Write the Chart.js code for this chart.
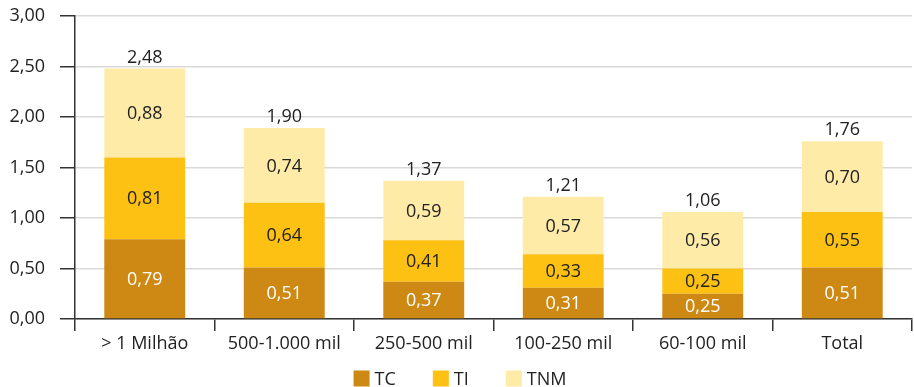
<!DOCTYPE html>
<html>
<head>
<meta charset="utf-8">
<script src="https://cdn.jsdelivr.net/npm/chart.js@4/dist/chart.umd.min.js"></script>
<style>
  html, body { margin: 0; padding: 0; background: #fff; }
  #wrap { width: 914px; height: 387px; position: relative; }
</style>
</head>
<body>
<div id="wrap"><canvas id="c"></canvas></div>
<script>
// Porte dos municípios
const categories = ['> 1 Milhão', '500-1.000 mil', '250-500 mil', '100-250 mil', '60-100 mil', 'Total'];
// Componentes empilhados
const tc  = [0.79, 0.51, 0.37, 0.31, 0.25, 0.51];
const ti  = [0.81, 0.64, 0.41, 0.33, 0.25, 0.55];
const tnm = [0.88, 0.74, 0.59, 0.57, 0.56, 0.70];
// Totais exibidos acima de cada barra
const totals = [2.48, 1.90, 1.37, 1.21, 1.06, 1.76];
const yTicks = [0, 0.5, 1, 1.5, 2, 2.5, 3];

const FONT = '"Open Sans", "Noto Sans", sans-serif';
const FS = 18;
const TEXT = '#222222';
const fmt = v => v.toFixed(2).replace('.', ',');

// Rótulos de valor no centro de cada segmento e total no topo
const valueLabels = {
  id: 'valueLabels',
  afterDatasetsDraw(chart) {
    const ctx = chart.ctx;
    ctx.save();
    ctx.font = FS + 'px ' + FONT;
    ctx.textAlign = 'center';
    ctx.textBaseline = 'middle';
    chart.data.datasets.forEach((ds, di) => {
      const meta = chart.getDatasetMeta(di);
      meta.data.forEach((bar, i) => {
        const mid = (bar.y + bar.base) / 2;
        ctx.fillStyle = di === 0 ? '#ffffff' : TEXT;
        ctx.fillText(fmt(ds.data[i]), bar.x, mid + 1);
      });
    });
    const last = chart.getDatasetMeta(chart.data.datasets.length - 1);
    ctx.fillStyle = TEXT;
    ctx.textBaseline = 'alphabetic';
    last.data.forEach((bar, i) => {
      ctx.fillText(fmt(totals[i]), bar.x, bar.y - 6);
    });
    ctx.restore();
  }
};

// Legenda desenhada no rodapé, centralizada
const footLegend = {
  id: 'footLegend',
  afterDraw(chart) {
    const ctx = chart.ctx;
    const box = 16, gapText = 5, gapItem = 37;
    ctx.save();
    ctx.font = FS + 'px ' + FONT;
    const items = chart.data.datasets.map(ds => ({
      text: ds.label, color: ds.backgroundColor, w: ctx.measureText(ds.label).width
    }));
    const total = items.reduce((s, it) => s + box + gapText + it.w, 0) + gapItem * (items.length - 1);
    let x = chart.width / 2 + 3 - total / 2;
    const yMid = chart.height - 8.5;
    ctx.textBaseline = 'middle';
    ctx.textAlign = 'left';
    items.forEach(it => {
      ctx.fillStyle = it.color;
      ctx.fillRect(x, yMid - box / 2, box, box);
      x += box + gapText;
      ctx.fillStyle = TEXT;
      ctx.fillText(it.text, x, yMid + 1);
      x += it.w + gapItem;
    });
    ctx.restore();
  }
};

new Chart(document.getElementById('c'), {
  type: 'bar',
  data: {
    labels: categories,
    datasets: [
      { label: 'TC',  data: tc,  backgroundColor: '#CD8913' },
      { label: 'TI',  data: ti,  backgroundColor: '#FDC113' },
      { label: 'TNM', data: tnm, backgroundColor: '#FFEBA8' }
    ]
  },
  options: {
    responsive: true,
    maintainAspectRatio: false,
    animation: false,
    layout: { padding: { top: 16, right: 2, left: 0, bottom: 0 } },
    datasets: { bar: { categoryPercentage: 1, barPercentage: 0.58 } },
    plugins: {
      legend: { display: false },
      tooltip: { enabled: false }
    },
    scales: {
      x: {
        stacked: true,
        grid: {
          offset: true,
          drawOnChartArea: false,
          drawTicks: true,
          tickLength: 12,
          tickColor: '#333',
          lineWidth: 1.5
        },
        border: { color: '#333', width: 1.5 },
        ticks: { font: { family: FONT, size: FS }, color: TEXT, padding: 2 },
        afterFit(scale) {
          scale.height = 68;
          scale.paddingLeft = 0;
          scale.paddingRight = 0;
        }
      },
      y: {
        stacked: true,
        min: 0,
        max: 3,
        afterBuildTicks(scale) { scale.ticks = yTicks.map(v => ({ value: v })); },
        grid: {
          color: '#d9d9d9',
          tickColor: '#333',
          tickLength: 15,
          lineWidth: 1.5
        },
        border: { color: '#333', width: 1.5 },
        ticks: {
          font: { family: FONT, size: FS },
          color: TEXT,
          padding: 15,
          callback: v => fmt(v)
        },
        afterFit(scale) {
          scale.width = 75;
          scale.paddingTop = 0;
          scale.paddingBottom = 0;
        }
      }
    }
  },
  plugins: [valueLabels, footLegend]
});
</script>
</body>
</html>
